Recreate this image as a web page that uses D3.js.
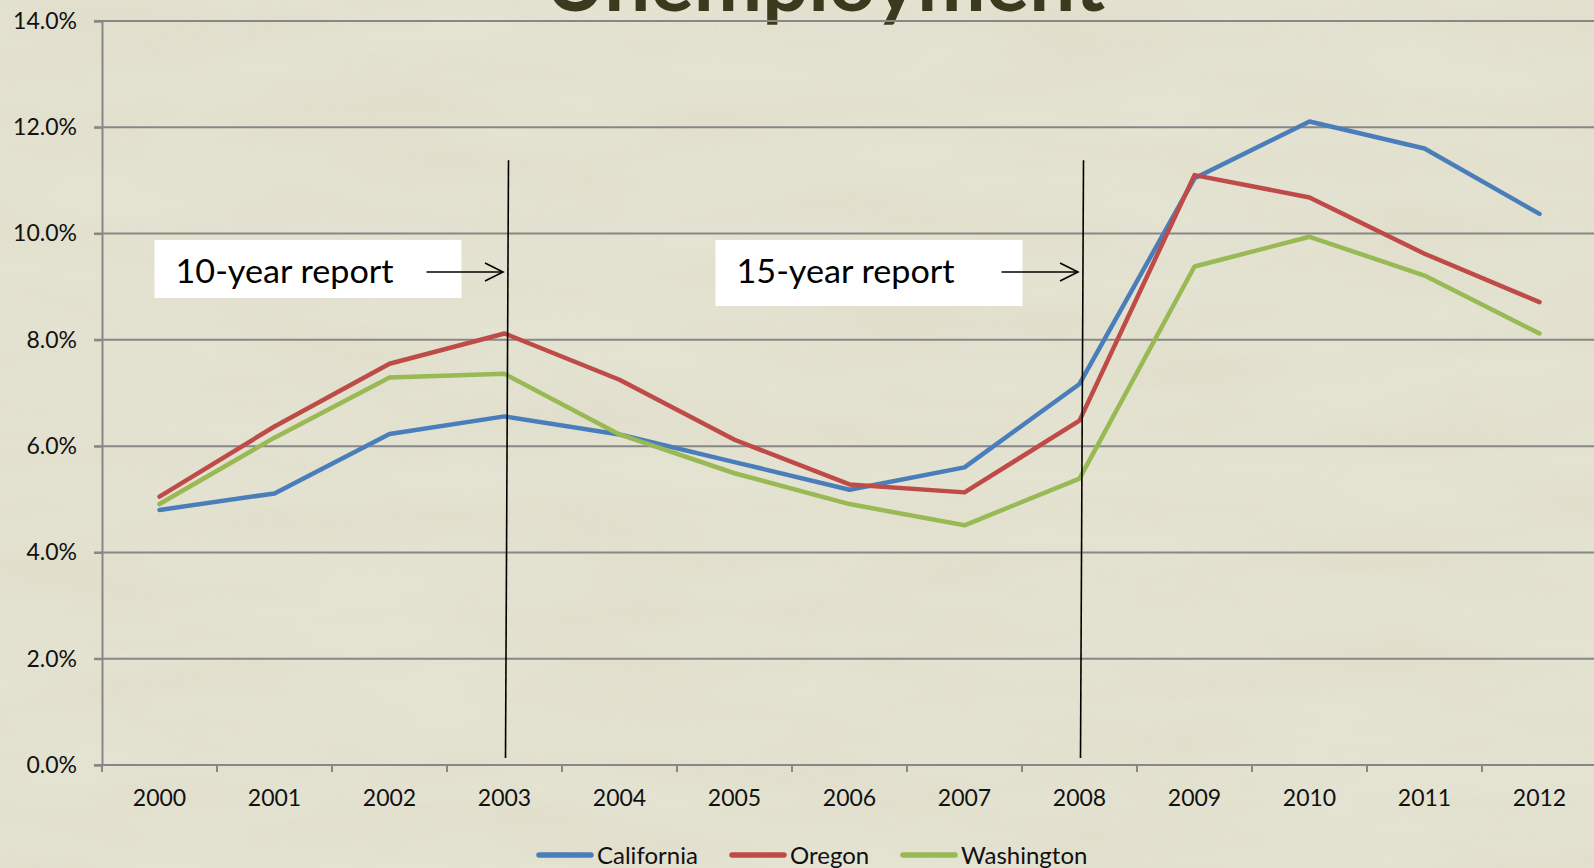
<!DOCTYPE html>
<html>
<head>
<meta charset="utf-8">
<script src="https://cdn.jsdelivr.net/npm/d3@7"></script>
<style>
  html, body { margin: 0; padding: 0; background: #e2e0ce; overflow: hidden; }
  #chart { width: 1594px; height: 868px; }
</style>
</head>
<body>
<div id="chart"></div>
<script>
// Dati (tasso di disoccupazione, %)
const years = ["2000", "2001", "2002", "2003", "2004", "2005", "2006", "2007", "2008", "2009", "2010", "2011", "2012"];
const california = [4.80, 5.11, 6.23, 6.56, 6.22, 5.70, 5.18, 5.60, 7.17, 11.04, 12.11, 11.60, 10.37];
const oregon = [5.05, 6.37, 7.55, 8.12, 7.25, 6.12, 5.28, 5.13, 6.48, 11.10, 10.68, 9.62, 8.71];
const washington = [4.91, 6.16, 7.29, 7.36, 6.22, 5.49, 4.91, 4.51, 5.39, 9.38, 9.94, 9.21, 8.12];
const seriesNames = ["California", "Oregon", "Washington"];
const seriesColors = ["#4a7ebb", "#be4b48", "#98b954"];
const yTicks = [0, 2, 4, 6, 8, 10, 12, 14];
const chartTitle = "Unemployment";
const reports = [
  { label: "10-year report", year: "2003" },
  { label: "15-year report", year: "2008" },
];

const series = seriesNames.map((name, i) => ({
  name: name,
  color: seriesColors[i],
  values: [california, oregon, washington][i],
}));

// Dimensioni
const width = 1594;
const height = 868;
const margin = { top: 21, right: -3, bottom: 103, left: 102 };

const svg = d3
  .select("#chart")
  .append("svg")
  .attr("width", width)
  .attr("height", height);

// Sfondo con una leggera texture
const defs = svg.append("defs");
const filter = defs.append("filter").attr("id", "paper").attr("x", 0).attr("y", 0).attr("width", "100%").attr("height", "100%");
filter.append("feTurbulence").attr("type", "fractalNoise").attr("baseFrequency", "0.004 0.02").attr("numOctaves", 3).attr("seed", 4).attr("result", "noise");
filter.append("feColorMatrix").attr("in", "noise").attr("type", "matrix")
  .attr("values", "0 0 0 0 1  0 0 0 0 1  0 0 0 0 0.95  0 0 0 0.35 -0.05");

svg.append("rect").attr("width", width).attr("height", height).attr("fill", "#e1dfcc");
svg.append("rect").attr("width", width).attr("height", height).attr("filter", "url(#paper)").attr("opacity", 0.5);

// Scale
const x = d3
  .scaleBand()
  .domain(years)
  .range([margin.left, width - margin.right])
  .paddingInner(0)
  .paddingOuter(0);

const y = d3
  .scaleLinear()
  .domain([0, 14])
  .range([height - margin.bottom, margin.top]);

const cx = (year) => x(year) + x.bandwidth() / 2;

// Titolo (tagliato in alto come nell'originale)
svg
  .append("text")
  .attr("x", 825)
  .attr("y", 11)
  .attr("text-anchor", "middle")
  .attr("font-family", "Lato, 'Open Sans', sans-serif")
  .attr("font-weight", 700)
  .attr("font-size", 80)
  .attr("fill", "#3c3a1d")
  .attr("textLength", 560)
  .attr("lengthAdjust", "spacingAndGlyphs")
  .text(chartTitle);

// Griglia orizzontale
svg
  .append("g")
  .attr("class", "grid")
  .selectAll("line")
  .data(yTicks)
  .join("line")
  .attr("x1", margin.left - 8)
  .attr("x2", width)
  .attr("y1", (d) => y(d))
  .attr("y2", (d) => y(d))
  .attr("stroke", "#878787")
  .attr("stroke-width", 2);

// Asse Y
const yAxis = svg
  .append("g")
  .attr("transform", `translate(${margin.left},0)`)
  .call(
    d3.axisLeft(y)
      .tickValues(yTicks)
      .tickFormat((d) => d3.format(".1f")(d) + "%")
      .tickSize(8)
      .tickPadding(17)
  );
yAxis.select(".domain").attr("stroke", "#878787").attr("stroke-width", 2);
yAxis.selectAll(".tick line").attr("stroke", "#878787").attr("stroke-width", 2);
yAxis
  .selectAll(".tick text")
  .attr("font-family", "Lato, sans-serif")
  .attr("font-size", 23)
  .attr("fill", "#111");

// Asse X (tacche sui bordi delle categorie)
const xAxis = svg
  .append("g")
  .attr("transform", `translate(0,${height - margin.bottom})`);
xAxis
  .selectAll("line")
  .data(years.concat(["end"]))
  .join("line")
  .attr("x1", (d, i) => margin.left + i * x.bandwidth())
  .attr("x2", (d, i) => margin.left + i * x.bandwidth())
  .attr("y1", 0)
  .attr("y2", 7)
  .attr("stroke", "#878787")
  .attr("stroke-width", 2);
xAxis
  .selectAll("text")
  .data(years)
  .join("text")
  .attr("x", (d) => cx(d))
  .attr("y", 41)
  .attr("text-anchor", "middle")
  .attr("font-family", "Lato, sans-serif")
  .attr("font-size", 23)
  .attr("fill", "#111")
  .text((d) => d);

// Linee delle serie
const line = d3
  .line()
  .x((d, i) => cx(years[i]))
  .y((d) => y(d));

svg
  .append("g")
  .selectAll("path")
  .data(series)
  .join("path")
  .attr("d", (d) => line(d.values))
  .attr("fill", "none")
  .attr("stroke", (d) => d.color)
  .attr("stroke-width", 4.5)
  .attr("stroke-linejoin", "round")
  .attr("stroke-linecap", "round");

// Annotazioni: riquadri, frecce e linee verticali
const boxWidths = [307, 307];
const boxHeights = [58, 66];
const boxOffsets = [-350, -364];

reports.forEach((r, i) => {
  const lx = cx(r.year);
  const g = svg.append("g");

  // linea verticale leggermente inclinata
  g.append("line")
    .attr("x1", lx + 4)
    .attr("y1", y(11.38))
    .attr("x2", lx + 1)
    .attr("y2", y(0.13))
    .attr("stroke", "#000")
    .attr("stroke-width", 1.6);

  const bx = lx + boxOffsets[i];
  g.append("rect")
    .attr("x", bx)
    .attr("y", 240)
    .attr("width", boxWidths[i])
    .attr("height", boxHeights[i])
    .attr("fill", "#fff");

  g.append("text")
    .attr("x", bx + 21)
    .attr("y", 283)
    .attr("font-family", "Lato, sans-serif")
    .attr("font-size", 32)
    .attr("fill", "#000")
    .attr("textLength", 218)
    .attr("lengthAdjust", "spacingAndGlyphs")
    .text(r.label);

  // freccia
  const ay = 272;
  const tip = lx - 1.5;
  g.append("line")
    .attr("x1", lx - 78)
    .attr("y1", ay)
    .attr("x2", tip)
    .attr("y2", ay)
    .attr("stroke", "#000")
    .attr("stroke-width", 1.6);
  g.append("path")
    .attr("d", `M${tip - 18},${ay - 9} L${tip},${ay} L${tip - 18},${ay + 9}`)
    .attr("fill", "none")
    .attr("stroke", "#000")
    .attr("stroke-width", 1.6);
});

// Legenda
const legendX = [537, 730, 901];
const legend = svg
  .append("g")
  .selectAll("g")
  .data(series)
  .join("g")
  .attr("transform", (d, i) => `translate(${legendX[i]},855)`);

legend
  .append("line")
  .attr("x1", 2)
  .attr("x2", 54)
  .attr("y1", 0)
  .attr("y2", 0)
  .attr("stroke", (d) => d.color)
  .attr("stroke-width", 5.5)
  .attr("stroke-linecap", "round");

legend
  .append("text")
  .attr("x", 60)
  .attr("y", 9)
  .attr("font-family", "Lato, sans-serif")
  .attr("font-size", 24)
  .attr("fill", "#111")
  .text((d) => d.name);
</script>
</body>
</html>
